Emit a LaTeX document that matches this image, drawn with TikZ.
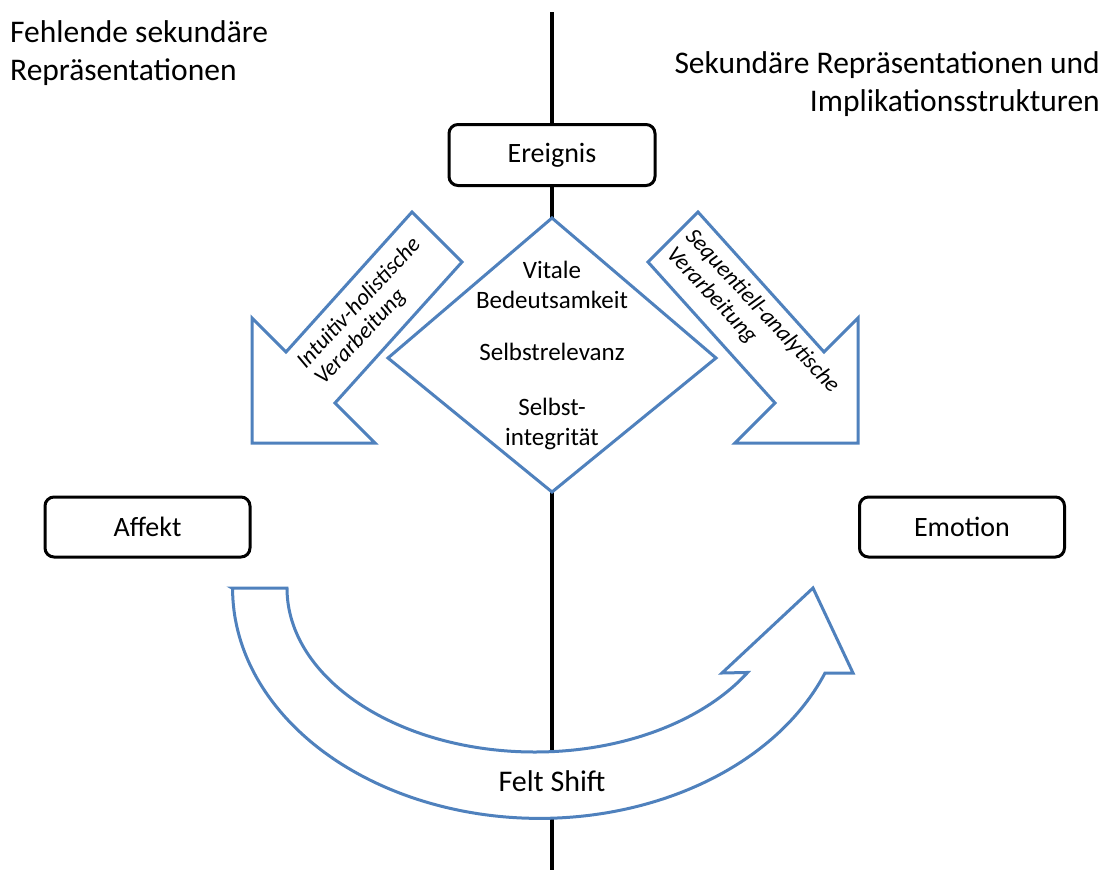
\documentclass[tikz,border=0pt]{standalone}
\usepackage{fontspec}
\setmainfont{Carlito}
\definecolor{ofblue}{RGB}{79,129,189}
\begin{document}
\begin{tikzpicture}[x=1pt,y=-1pt,
  box/.style={draw=black,line width=3pt,rounded corners=9pt,fill=white,inner sep=0pt,font=\fontsize{28}{34}\selectfont},
  blueshape/.style={draw=ofblue,line width=3pt,fill=white,line join=miter},
  lbl/.style={font=\fontsize{30}{36}\selectfont,inner sep=0pt},
  dtext/.style={font=\fontsize{25}{30}\selectfont,align=center,inner sep=0pt},
  atext/.style={font=\fontsize{23}{28}\itshape\selectfont,inner sep=0pt},
  head/.style={font=\fontsize{31.5}{38}\selectfont,inner sep=0pt}]
\useasboundingbox (0,0) rectangle (1111,878);
% central axis
\coordinate (ltop) at (552,12);
\coordinate (lbot) at (552,870);
\draw[line width=4pt] (ltop) -- (lbot);
% headers
\node[head,anchor=north west,align=left] (hl) at (10,20) {Fehlende sekundäre\\Repräsentationen};
\node[head,anchor=north east,align=right] (hr) at (1100,51) {Sekundäre Repräsentationen und\\Implikationsstrukturen};
% boxes
\node[box,minimum width=206pt,minimum height=61pt] (ereignis) at (552,155) {Ereignis};
\node[box,minimum width=205pt,minimum height=60pt] (affekt) at (147.5,527) {Affekt};
\node[box,minimum width=205pt,minimum height=60pt] (emotion) at (962,527) {Emotion};
% left arrow
\draw[blueshape] (412,212) -- (286,352) -- (252,318) -- (252,443) -- (375,443) -- (335,403) -- (462,262) -- cycle;
% right arrow
\draw[blueshape] (698,212) -- (824,352) -- (858,318) -- (858,443) -- (735,443) -- (775,403) -- (648,262) -- cycle;
\node[atext,rotate=47,anchor=west] (l1) at (300,364) {Intuitiv-holistische};
\node[atext,rotate=47,anchor=west] (l2) at (319,382) {Verarbeitung};
\node[atext,rotate=-47,anchor=west] (r1) at (689,233) {Sequentiell-analytische};
\node[atext,rotate=-47,anchor=west] (r2) at (670,251) {Verarbeitung};
% diamond
\draw[blueshape] (552,218) -- (716,358) -- (552,492) -- (388,358) -- cycle;
\node[dtext] (d1) at (552,285) {Vitale\\Bedeutsamkeit};
\node[dtext] (d2) at (552,352) {Selbstrelevanz};
\node[dtext] (d3) at (552,424) {Selbst-\\integrität};
% curved arrow
\draw[blueshape] (232,588) -- (287,588)
  arc[start angle=180,end angle=31.0,x radius=248,y radius=164]
  -- (722,673) -- (813,588) -- (853,673) -- (825,673)
  arc[start angle=21.6,end angle=180,x radius=307,y radius=230] -- cycle;
\node[lbl] (felt) at (552,781) {Felt Shift};
\end{tikzpicture}
\end{document}
